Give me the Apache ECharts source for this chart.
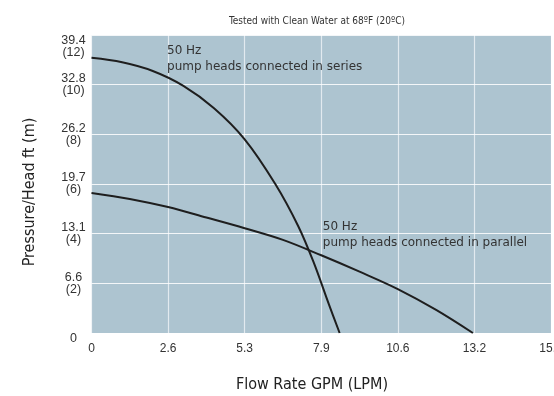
<!DOCTYPE html>
<html>
<head>
<meta charset="utf-8">
<script src="https://cdn.jsdelivr.net/npm/echarts@6/dist/echarts.min.js"></script>
<style>
html,body{margin:0;padding:0;background:#fff;}
#c{width:554px;height:396px;}
</style>
</head>
<body>
<div id="c"></div>
<script>
// Flow in LPM (x), head in metres (y)
var xTicksLPM = [0, 10, 20, 30, 40, 50, 60];
var xTickLabelsGPM = ['0', '2.6', '5.3', '7.9', '10.6', '13.2', '15.9'];
var yTicksM = [0, 2, 4, 6, 8, 10, 12];
var yTickLabelsFt = ['0', '6.6', '13.1', '19.7', '26.2', '32.8', '39.4'];

var seriesFlow = [0, 4, 8, 12, 16, 20, 24, 27, 29, 31, 32.4];
var seriesHead = [11.08, 10.9, 10.55, 9.95, 9.05, 7.8, 6.0, 4.3, 2.85, 1.15, 0];

var parallelFlow = [0, 5, 10, 15, 20, 25, 30, 35, 40, 45, 49.8];
var parallelHead = [5.64, 5.4, 5.07, 4.65, 4.22, 3.75, 3.13, 2.47, 1.77, 0.93, 0];

var seriesLabel = '50 Hz\npump heads connected in series';
var parallelLabel = '50 Hz\npump heads connected in parallel';
var titleText = 'Tested with Clean Water at 68\u00BAF (20\u00BAC)';
var xName = 'Flow Rate GPM (LPM)';
var yName = 'Pressure/Head ft (m)';

function pairs(xs, ys) { return xs.map(function (x, i) { return [x, ys[i]]; }); }

var chart = echarts.init(document.getElementById('c'), null, {renderer: 'canvas'});
var condensed = '"DejaVu Sans Condensed", "Liberation Sans Narrow", "Open Sans", sans-serif';
var noteFont = '"DejaVu Sans", "Liberation Sans", Arial, sans-serif';
var option = {
  animation: false,
  title: {
    text: titleText,
    left: 312, top: 11, textAlign: 'center',
    textStyle: {fontSize: 10, fontWeight: 'normal', color: '#333', fontFamily: condensed}
  },
  grid: {
    left: 91.5, right: 3, top: 35, bottom: 63,
    containLabel: false, outerBoundsMode: 'none',
    show: true, backgroundColor: '#adc4d0', borderWidth: 0
  },
  xAxis: {
    type: 'value', min: 0, max: 60, interval: 10,
    axisLine: {show: false}, axisTick: {show: false},
    splitLine: {show: true, lineStyle: {color: 'rgba(255,255,255,0.65)', width: 1.2}},
    axisLabel: {
      margin: 10, fontSize: 12, color: '#333', fontFamily: 'Liberation Sans, Arial, sans-serif',
      hideOverlap: false,
      formatter: function (v) { var i = xTicksLPM.indexOf(v); return i >= 0 ? xTickLabelsGPM[i] : ''; }
    }
  },
  yAxis: {
    type: 'value', min: 0, max: 12, interval: 2,
    axisLine: {show: false}, axisTick: {show: false},
    splitLine: {show: true, lineStyle: {color: 'rgba(255,255,255,0.85)', width: 1.2}},
    axisLabel: {
      margin: 18, align: 'center', fontSize: 12.5, lineHeight: 12, color: '#333',
      fontFamily: 'Liberation Sans, Arial, sans-serif',
      verticalAlignMaxLabel: 'top',
      verticalAlignMinLabel: 'top',
      formatter: function (v) {
        var i = yTicksM.indexOf(v);
        if (i < 0) return '';
        if (v === 0) return '0';
        return yTickLabelsFt[i] + '\n(' + v + ')';
      }
    }
  },
  graphic: [
    {type: 'text', x: 30, y: 192, rotation: Math.PI / 2,
     style: {text: yName, align: 'center', verticalAlign: 'middle', fill: '#222',
             font: '16px ' + condensed}},
    {type: 'text', x: 312, y: 385,
     style: {text: xName, align: 'center', verticalAlign: 'middle', fill: '#222',
             font: '16px ' + condensed}}
  ],
  series: [
    {
      type: 'line', smooth: 0.35, symbol: 'none',
      data: pairs(seriesFlow, seriesHead),
      lineStyle: {color: '#1e1e1e', width: 2},
      markPoint: {
        symbol: 'circle', symbolSize: 0,
        data: [{coord: [9.86, 11.68]}],
        label: {show: true, formatter: seriesLabel, position: [0, 0],
                align: 'left', verticalAlign: 'top', color: '#333', fontSize: 12, lineHeight: 16,
                fontFamily: noteFont}
      }
    },
    {
      type: 'line', smooth: 0.35, symbol: 'none',
      data: pairs(parallelFlow, parallelHead),
      lineStyle: {color: '#1e1e1e', width: 2},
      markPoint: {
        symbol: 'circle', symbolSize: 0,
        data: [{coord: [30.2, 4.58]}],
        label: {show: true, formatter: parallelLabel, position: [0, 0],
                align: 'left', verticalAlign: 'top', color: '#333', fontSize: 12, lineHeight: 16,
                fontFamily: noteFont}
      }
    }
  ]
};
chart.setOption(option);
</script>
</body>
</html>
